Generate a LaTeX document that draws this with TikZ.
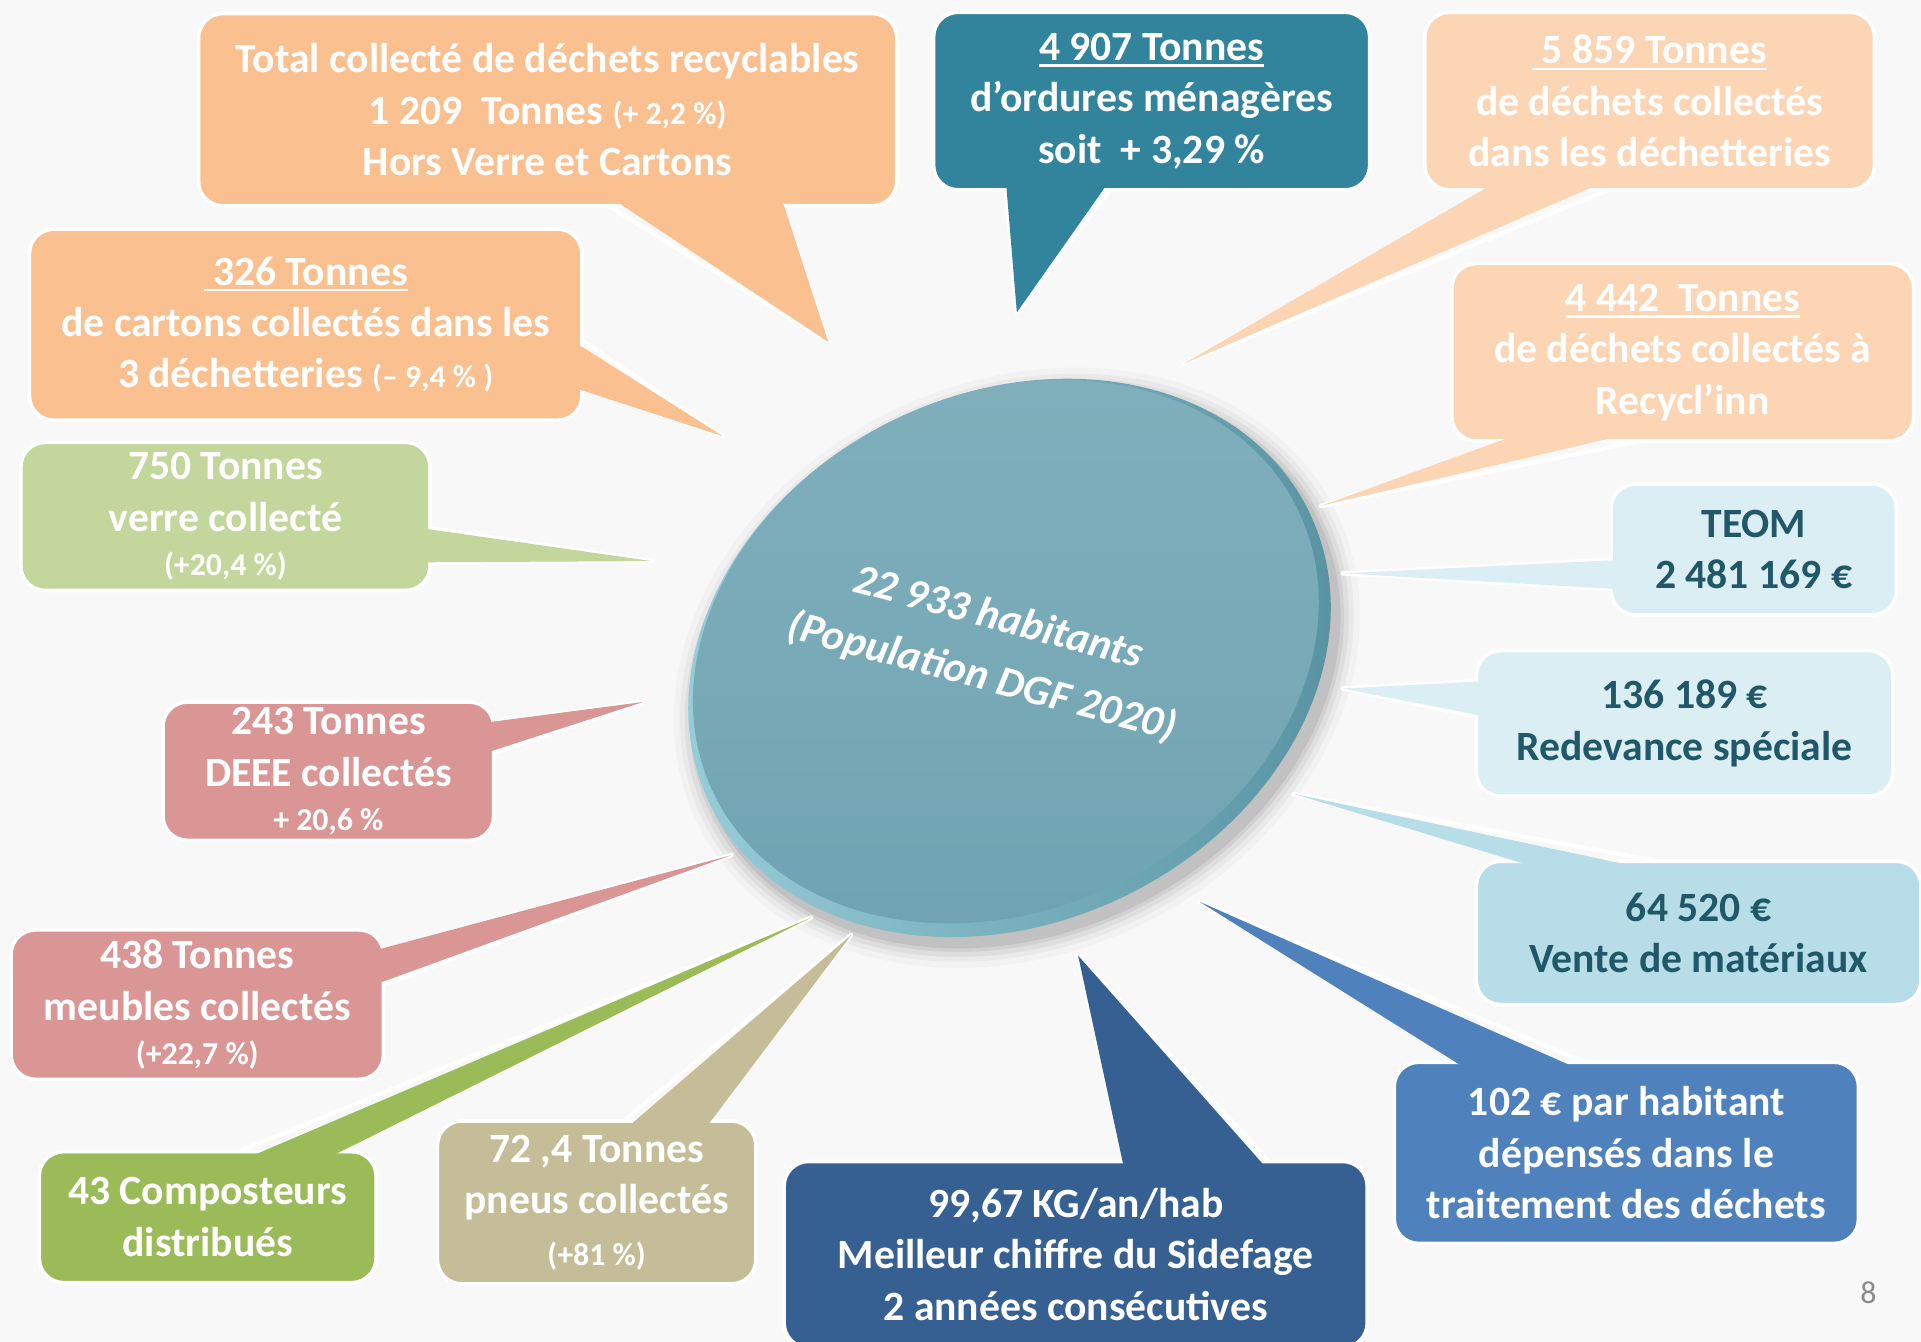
\documentclass[tikz,border=0pt]{standalone}
\usepackage{fontspec}
\setmainfont{Carlito}
\usetikzlibrary{shapes.geometric,calc}
\definecolor{bgc}{HTML}{F8F8F8}
\definecolor{orA}{HTML}{FAC090}
\definecolor{peach}{HTML}{FCD5B5}
\definecolor{tealD}{HTML}{31849B}
\definecolor{lbA}{HTML}{DBEEF4}
\definecolor{lbB}{HTML}{B7DEE8}
\definecolor{blueM}{HTML}{4F81BD}
\definecolor{blueD}{HTML}{366092}
\definecolor{tanC}{HTML}{C4BD97}
\definecolor{greenC}{HTML}{9BBB59}
\definecolor{pinkC}{HTML}{D99694}
\definecolor{lgreen}{HTML}{C3D69B}
\definecolor{txtD}{HTML}{215868}
\definecolor{rimL}{HTML}{9AD0DB}
\definecolor{rimD}{HTML}{56909F}
\definecolor{faceT}{HTML}{80AFBC}
\definecolor{faceB}{HTML}{6FA3B1}
\definecolor{pgc}{HTML}{8A8A8A}
\newcommand\bigtxt{\fontsize{17}{21}\selectfont\bfseries}
\newcommand\smtxt{\fontsize{13}{15}\selectfont}
\newcommand\ulx[1]{\setbox0=\hbox{#1}\rlap{\rule[-2.6pt]{\wd0}{1.1pt}}\box0}
\begin{document}
\begin{tikzpicture}[x=0.5pt,y=-0.5pt,
  cbox/.style={rectangle, rounded corners=10pt, draw=white, line width=1.5pt,
    inner sep=0pt, align=center, font=\bigtxt, text=white},
  ptredge/.style={draw=white, line width=1.8pt, line join=round},
  ]
\useasboundingbox (0,0) rectangle (1568,1095);
\fill[bgc] (0,0) rectangle (1568,1095);

% ---------- central disk ----------
\foreach \r/\o in {18/0.025,13/0.035,9/0.045,5/0.06,2/0.07}
  \fill[black, opacity=\o, shift={(830,545)}, rotate=26] (0,0) ellipse [x radius=272+\r, y radius=215+\r];
\shade[left color=rimL, right color=rimD, shift={(824,537)}, rotate=26] (0,0) ellipse [x radius=272, y radius=216];
\shade[top color=faceT, bottom color=faceB, shift={(821,532)}, rotate=26] (0,0) ellipse [x radius=265, y radius=210];
\node[rotate=-15, align=center, font=\fontsize{17.5}{25}\selectfont\bfseries\itshape, text=white] (pop) at (808,529) {22 933 habitants\\(Population DGF 2020)};

% ---------- Total collecte ----------
\coordinate (tot-a) at (495,167); \coordinate (tot-b) at (637,167); \coordinate (tot-t) at (676,279);
\draw[ptredge] (tot-a) -- (tot-t) -- (tot-b);
\node[cbox, fill=orA, minimum width=285pt, minimum height=78.5pt] (tot) at (447,89.5)
  {Total collecté de déchets recyclables\\1 209\ \ Tonnes {\smtxt(+ 2,2 \%)}\\Hors Verre et Cartons};
\fill[orA] ($(tot-a)+(0,-8)$) -- (tot-t) -- ($(tot-b)+(0,-8)$) -- cycle;

% ---------- ordures menageres ----------
\coordinate (om-a) at (821,155); \coordinate (om-b) at (906,155); \coordinate (om-t) at (830,255);
\draw[ptredge] (om-a) -- (om-t) -- (om-b);
\node[cbox, fill=tealD, minimum width=178pt, minimum height=72.5pt] (om) at (940,82.5)
  {\ulx{4 907 Tonnes}\\d’ordures ménagères\\soit\ \ + 3,29 \%};
\fill[tealD] ($(om-a)+(0,-8)$) -- (om-t) -- ($(om-b)+(0,-8)$) -- cycle;

% ---------- dechetteries ----------
\coordinate (dech-a) at (1224,155); \coordinate (dech-b) at (1313,155); \coordinate (dech-t) at (966,297);
\draw[ptredge] (dech-a) -- (dech-t) -- (dech-b);
\node[cbox, fill=peach, minimum width=183.5pt, minimum height=72.5pt] (dech) at (1346.5,82.5)
  {\ulx{\ 5 859 Tonnes}\\de déchets collectés\\dans les déchetteries};
\fill[peach] ($(dech-a)+(0,-8)$) -- (dech-t) -- ($(dech-b)+(0,-8)$) -- cycle;

% ---------- Recycl'inn ----------
\coordinate (recy-a) at (1246,360); \coordinate (recy-b) at (1339,360); \coordinate (recy-t) at (1078,413);
\draw[ptredge] (recy-a) -- (recy-t) -- (recy-b);
\node[cbox, fill=peach, minimum width=188.5pt, minimum height=72.5pt] (recy) at (1373.5,287.5)
  {\ulx{4 442\ \ Tonnes}\\de déchets collectés à\\Recycl’inn};
\fill[peach] ($(recy-a)+(0,-8)$) -- (recy-t) -- ($(recy-b)+(0,-8)$) -- cycle;

% ---------- TEOM ----------
\coordinate (teom-a) at (1315,457); \coordinate (teom-b) at (1315,481); \coordinate (teom-t) at (1096,468);
\draw[ptredge] (teom-a) -- (teom-t) -- (teom-b);
\node[cbox, fill=lbA, text=txtD, minimum width=116.5pt, minimum height=53.5pt] (teom) at (1431.5,448.5)
  {TEOM\\2 481 169 €};
\fill[lbA] ($(teom-a)+(8,0)$) -- (teom-t) -- ($(teom-b)+(8,0)$) -- cycle;

% ---------- Redevance ----------
\coordinate (redev-a) at (1205,556); \coordinate (redev-b) at (1205,585); \coordinate (redev-t) at (1096,562);
\draw[ptredge] (redev-a) -- (redev-t) -- (redev-b);
\node[cbox, fill=lbA, text=txtD, minimum width=170pt, minimum height=59.5pt] (redev) at (1375,590.5)
  {136 189 €\\Redevance spéciale};
\fill[lbA] ($(redev-a)+(8,0)$) -- (redev-t) -- ($(redev-b)+(8,0)$) -- cycle;

% ---------- Vente ----------
\coordinate (vente-a) at (1264,703); \coordinate (vente-b) at (1353,703); \coordinate (vente-t) at (1056,648);
\draw[ptredge] (vente-a) -- (vente-t) -- (vente-b);
\node[cbox, fill=lbB, text=txtD, minimum width=181.5pt, minimum height=58.5pt] (vente) at (1386.5,761.5)
  {64 520 €\\Vente de matériaux};
\fill[lbB] ($(vente-a)+(0,8)$) -- (vente-t) -- ($(vente-b)+(0,8)$) -- cycle;

% ---------- par habitant ----------
\coordinate (hab-a) at (1201,867); \coordinate (hab-b) at (1294,867); \coordinate (hab-t) at (979,736);
\draw[ptredge] (hab-a) -- (hab-t) -- (hab-b);
\node[cbox, fill=blueM, minimum width=189.5pt, minimum height=74pt] (hab) at (1327.5,941)
  {102 € par habitant\\dépensés dans le\\traitement des déchets};
\fill[blueM] ($(hab-a)+(0,8)$) -- (hab-t) -- ($(hab-b)+(0,8)$) -- cycle;

% ---------- KG/an/hab ----------
\coordinate (kg-a) at (918,948); \coordinate (kg-b) at (1036,948); \coordinate (kg-t) at (880,780);
\draw[ptredge] (kg-a) -- (kg-t) -- (kg-b);
\node[cbox, fill=blueD, minimum width=238pt, minimum height=76pt] (kg) at (878,1024)
  {99,67 KG/an/hab\\Meilleur chiffre du Sidefage\\2 années consécutives};
\fill[blueD] ($(kg-a)+(0,8)$) -- (kg-t) -- ($(kg-b)+(0,8)$) -- cycle;

% ---------- pneus ----------
\coordinate (pneu-a) at (510,914); \coordinate (pneu-b) at (575,914); \coordinate (pneu-t) at (695,763);
\draw[ptredge] (pneu-a) -- (pneu-t) -- (pneu-b);
\node[cbox, fill=tanC, minimum width=130pt, minimum height=66.5pt] (pneu) at (487,981.5)
  {72 ,4 Tonnes\\pneus collectés\\{\smtxt (+81 \%)}};
\fill[tanC] ($(pneu-a)+(0,8)$) -- (pneu-t) -- ($(pneu-b)+(0,8)$) -- cycle;

% ---------- composteurs ----------
\coordinate (comp-a) at (195,940); \coordinate (comp-b) at (262,940); \coordinate (comp-t) at (662,749);
\draw[ptredge] (comp-a) -- (comp-t) -- (comp-b);
\node[cbox, fill=greenC, minimum width=137.5pt, minimum height=53.5pt] (comp) at (169.5,993.5)
  {43 Composteurs\\distribués};
\fill[greenC] ($(comp-a)+(0,8)$) -- (comp-t) -- ($(comp-b)+(0,8)$) -- cycle;

% ---------- meubles ----------
\coordinate (meub-a) at (313,776); \coordinate (meub-b) at (313,804); \coordinate (meub-t) at (597,698);
\draw[ptredge] (meub-a) -- (meub-t) -- (meub-b);
\node[cbox, fill=pinkC, minimum width=152pt, minimum height=61pt] (meub) at (161,820)
  {438 Tonnes\\meubles collectés\\[-3pt]{\smtxt (+22,7 \%)}};
\fill[pinkC] ($(meub-a)+(-8,0)$) -- (meub-t) -- ($(meub-b)+(-8,0)$) -- cycle;

% ---------- DEEE ----------
\coordinate (deee-a) at (403,590); \coordinate (deee-b) at (403,615); \coordinate (deee-t) at (525,573);
\draw[ptredge] (deee-a) -- (deee-t) -- (deee-b);
\node[cbox, fill=pinkC, minimum width=135pt, minimum height=56.5pt] (deee) at (268,629.5)
  {243 Tonnes\\DEEE collectés\\[-3pt]{\smtxt + 20,6 \%}};
\fill[pinkC] ($(deee-a)+(-8,0)$) -- (deee-t) -- ($(deee-b)+(-8,0)$) -- cycle;

% ---------- verre ----------
\coordinate (verre-a) at (351,431); \coordinate (verre-b) at (351,459); \coordinate (verre-t) at (532,458);
\draw[ptredge] (verre-a) -- (verre-t) -- (verre-b);
\node[cbox, fill=lgreen, minimum width=167pt, minimum height=60.5pt] (verre) at (184,421.5)
  {750 Tonnes\\verre collecté\\[-3pt]{\smtxt (+20,4 \%)}};
\fill[lgreen] ($(verre-a)+(-8,0)$) -- (verre-t) -- ($(verre-b)+(-8,0)$) -- cycle;

% ---------- cartons ----------
\coordinate (cart-a) at (475,278); \coordinate (cart-b) at (475,316); \coordinate (cart-t) at (590,356);
\draw[ptredge] (cart-a) -- (cart-t) -- (cart-b);
\node[cbox, fill=orA, minimum width=225.5pt, minimum height=78pt] (cart) at (249.5,265)
  {\ulx{\ 326 Tonnes}\\de cartons collectés dans les\\3 déchetteries {\smtxt(– 9,4 \% )}};
\fill[orA] ($(cart-a)+(-8,0)$) -- (cart-t) -- ($(cart-b)+(-8,0)$) -- cycle;

% ---------- page number ----------
\node[text=pgc, font=\fontsize{13}{15}\selectfont] (pg) at (1525,1055) {8};
\end{tikzpicture}
\end{document}
